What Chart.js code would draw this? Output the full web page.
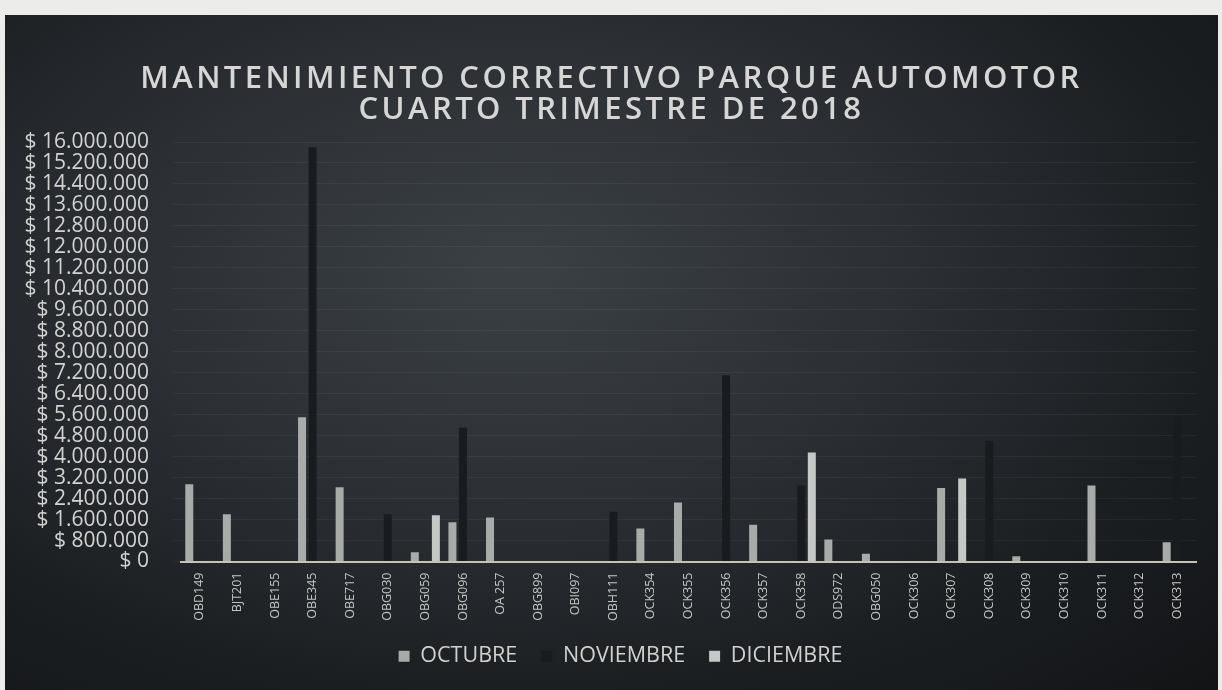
<!DOCTYPE html>
<html>
<head>
    <meta charset="utf-8">
    <title>Mantenimiento correctivo parque automotor</title>
    <script src="https://cdn.jsdelivr.net/npm/chart.js"></script>
    <style>
        * {
            font-family: 'Open Sans';
        }
        body {
            margin: 0;
            background-color: #ececea;
            width: 1222px;
            height: 690px;
            overflow: hidden;
        }
        .chart-box {
            position: absolute;
            left: 5px;
            top: 15px;
            width: 1213px;
            height: 675px;
            background: radial-gradient(ellipse at 42% 38%, #3b4045 0%, #2c3035 38%, #1c1f22 70%, #121416 100%);
        }
        h1 {
            position: absolute;
            left: 0;
            top: 46px;
            width: 1213px;
            margin: 0;
            text-align: center;
            color: #d6d6d4;
            font-size: 31px;
            font-weight: 600;
            letter-spacing: 3.4px;
            line-height: 31px;
        }
        canvas {
            position: absolute;
            left: 0;
            top: 0;
        }
    </style>
</head>
<body>
<div class="chart-box">
    <canvas id="parque_chart" width="1213" height="675"></canvas>
    <h1>MANTENIMIENTO CORRECTIVO PARQUE AUTOMOTOR<br>CUARTO TRIMESTRE DE 2018</h1>
</div>

<script>
const placas = ['OBD149', 'BJT201', 'OBE155', 'OBE345', 'OBE717', 'OBG030', 'OBG059', 'OBG096', 'OA 257',
    'OBG899', 'OBI097', 'OBH111', 'OCK354', 'OCK355', 'OCK356', 'OCK357', 'OCK358', 'ODS972', 'OBG050',
    'OCK306', 'OCK307', 'OCK308', 'OCK309', 'OCK310', 'OCK311', 'OCK312', 'OCK313'];

const octubre = [2950000, 1800000, 0, 5500000, 2830000, 0, 350000, 1500000, 1680000,
    0, 0, 0, 1260000, 2250000, 0, 1400000, 0, 840000, 300000,
    0, 2800000, 0, 200000, 0, 2900000, 0, 730000];

const noviembre = [0, 0, 0, 15800000, 0, 1800000, 0, 5100000, 0,
    0, 0, 1900000, 0, 0, 7100000, 0, 2900000, 0, 0,
    0, 0, 4600000, 0, 0, 0, 0, 5500000];

const diciembre = [0, 0, 0, 0, 0, 0, 1760000, 0, 0,
    0, 0, 0, 0, 0, 0, 0, 4160000, 0, 0,
    0, 3170000, 0, 0, 0, 0, 0, 0];

const yMax = 16000000;
const yStep = 800000;

function pesos(v) {
    return '$ ' + Math.round(v).toString().replace(/\B(?=(\d{3})+(?!\d))/g, '.');
}

// the legend in the original sits a bit right of centre
const legendShift = {
    id: 'legendShift',
    afterLayout(chart) {
        chart.legend.left += 20;
        chart.legend.right += 20;
    }
};

Chart.defaults.font.family = "'Open Sans', sans-serif";

const ctx = document.getElementById('parque_chart').getContext('2d');
new Chart(ctx, {
    type: 'bar',
    data: {
        labels: placas,
        datasets: [
            { label: 'OCTUBRE', data: octubre, backgroundColor: '#a9aba9' },
            { label: 'NOVIEMBRE', data: noviembre, backgroundColor: '#191c1f' },
            { label: 'DICIEMBRE', data: diciembre, backgroundColor: '#c6c8c5' }
        ]
    },
    plugins: [legendShift],
    options: {
        responsive: false,
        animation: false,
        layout: {
            padding: { top: 127, right: 22, bottom: 13, left: 0 }
        },
        datasets: {
            bar: {
                categoryPercentage: 0.84,
                barPercentage: 0.76,
                borderWidth: 0
            }
        },
        scales: {
            x: {
                afterFit: s => { s.height = 60; },
                grid: { display: false },
                border: { color: '#c4c4b4', width: 2 },
                ticks: {
                    autoSkip: false,
                    maxRotation: 90,
                    minRotation: 90,
                    padding: 3,
                    color: '#c2c4c2',
                    font: { size: 12.5 }
                }
            },
            y: {
                min: 0,
                max: yMax,
                afterFit: s => { s.width = 176; },
                border: { display: false },
                grid: { color: 'rgba(255,255,255,0.05)' },
                ticks: {
                    autoSkip: false,
                    stepSize: yStep,
                    padding: 24,
                    color: '#d2d2d0',
                    font: { size: 21 },
                    callback: v => pesos(v)
                }
            }
        },
        plugins: {
            legend: {
                position: 'bottom',
                labels: {
                    boxWidth: 11,
                    boxHeight: 11,
                    padding: 24,
                    color: '#d0d0ce',
                    font: { size: 21.5 }
                }
            },
            tooltip: { enabled: false }
        }
    }
});
</script>
</body>
</html>
